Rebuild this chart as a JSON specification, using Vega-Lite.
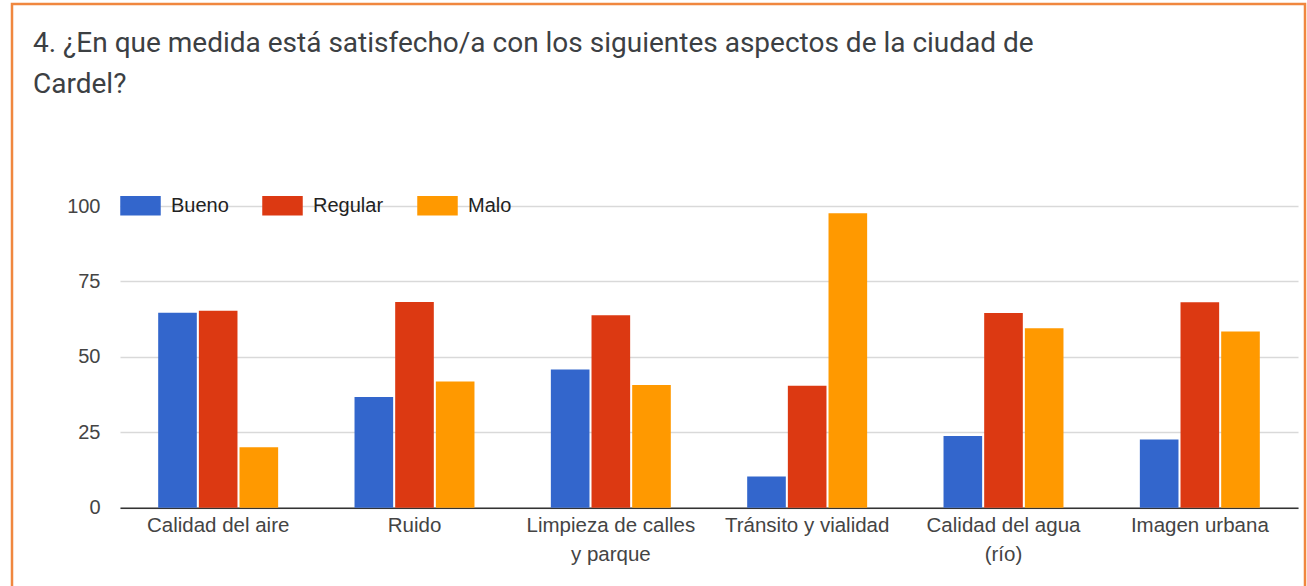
{
  "$schema": "https://vega.github.io/schema/vega-lite/v6.json",
  "autosize": {"type": "none"},
  "padding": {"left": 12, "top": 4, "right": 2, "bottom": 0},
  "width": 1293,
  "height": 582,
  "background": "white",
  "config": {
    "view": {"stroke": "#F0873F", "strokeWidth": 2.5, "strokeDash": [1875, 1293, 700]},
    "font": "Liberation Sans"
  },
  "title": {
    "text": ["4. ¿En que medida está satisfecho/a con los siguientes aspectos de la ciudad de", "Cardel?"],
    "anchor": "start",
    "frame": "group",
    "orient": "top",
    "offset": -117,
    "dx": 21,
    "baseline": "alphabetic",
    "lineHeight": 41,
    "font": "Roboto",
    "fontSize": 28,
    "fontWeight": "normal",
    "color": "#3c4043"
  },
  "data": {
    "values": [
      {"aspecto": "Calidad del aire", "tipo": "Bueno", "valor": 64.6},
      {"aspecto": "Calidad del aire", "tipo": "Regular", "valor": 65.3},
      {"aspecto": "Calidad del aire", "tipo": "Malo", "valor": 20},
      {"aspecto": "Ruido", "tipo": "Bueno", "valor": 36.7},
      {"aspecto": "Ruido", "tipo": "Regular", "valor": 68.2},
      {"aspecto": "Ruido", "tipo": "Malo", "valor": 41.8},
      {"aspecto": "Limpieza de calles|y parque", "tipo": "Bueno", "valor": 45.8},
      {"aspecto": "Limpieza de calles|y parque", "tipo": "Regular", "valor": 63.8},
      {"aspecto": "Limpieza de calles|y parque", "tipo": "Malo", "valor": 40.7},
      {"aspecto": "Tránsito y vialidad", "tipo": "Bueno", "valor": 10.3},
      {"aspecto": "Tránsito y vialidad", "tipo": "Regular", "valor": 40.4},
      {"aspecto": "Tránsito y vialidad", "tipo": "Malo", "valor": 97.6},
      {"aspecto": "Calidad del agua|(río)", "tipo": "Bueno", "valor": 23.8},
      {"aspecto": "Calidad del agua|(río)", "tipo": "Regular", "valor": 64.5},
      {"aspecto": "Calidad del agua|(río)", "tipo": "Malo", "valor": 59.5},
      {"aspecto": "Imagen urbana", "tipo": "Bueno", "valor": 22.6},
      {"aspecto": "Imagen urbana", "tipo": "Regular", "valor": 68.1},
      {"aspecto": "Imagen urbana", "tipo": "Malo", "valor": 58.4}
    ]
  },
  "mark": {"type": "bar"},
  "encoding": {
    "x": {
      "field": "aspecto",
      "type": "nominal",
      "sort": ["Calidad del aire", "Ruido", "Limpieza de calles|y parque", "Tránsito y vialidad", "Calidad del agua|(río)", "Imagen urbana"],
      "scale": {"range": [108, 1286], "paddingInner": 0.389, "paddingOuter": 0.1945},
      "axis": {
        "title": null,
        "orient": "bottom",
        "offset": -78.3,
        "domainColor": "#333333",
        "domainWidth": 1.5,
        "ticks": false,
        "labelPadding": 8,
        "labelFontSize": 20.5,
        "labelColor": "#444444",
        "labelAngle": 0,
        "labelLimit": 400,
        "labelExpr": "split(datum.label, '|')",
        "labelLineHeight": 29,
        "grid": false
      }
    },
    "xOffset": {
      "field": "tipo",
      "type": "nominal",
      "sort": ["Bueno", "Regular", "Malo"],
      "scale": {"paddingInner": 0.05, "paddingOuter": 0}
    },
    "y": {
      "field": "valor",
      "type": "quantitative",
      "scale": {"domain": [0, 100], "range": [503.7, 202], "nice": false},
      "axis": {
        "title": null,
        "values": [0, 25, 50, 75, 100],
        "offset": -108,
        "domain": false,
        "ticks": false,
        "tickSize": 0,
        "labelPadding": 20,
        "labelFontSize": 20,
        "labelColor": "#444444",
        "gridColor": "#d9d9d9",
        "gridWidth": 1.5
      }
    },
    "color": {
      "field": "tipo",
      "type": "nominal",
      "sort": ["Bueno", "Regular", "Malo"],
      "scale": {"domain": ["Bueno", "Regular", "Malo"], "range": ["#3366CC", "#DC3912", "#FF9900"]},
      "legend": {
        "orient": "none",
        "legendX": 108,
        "legendY": 181,
        "direction": "horizontal",
        "title": null,
        "symbolType": "M-1,-0.48H1V0.48H-1Z",
        "symbolSize": 1640,
        "symbolStrokeWidth": 0,
        "symbolOpacity": 1,
        "labelFontSize": 20,
        "labelColor": "#222222",
        "labelOffset": 10,
        "columnPadding": 33,
        "padding": 0
      }
    }
  }
}
